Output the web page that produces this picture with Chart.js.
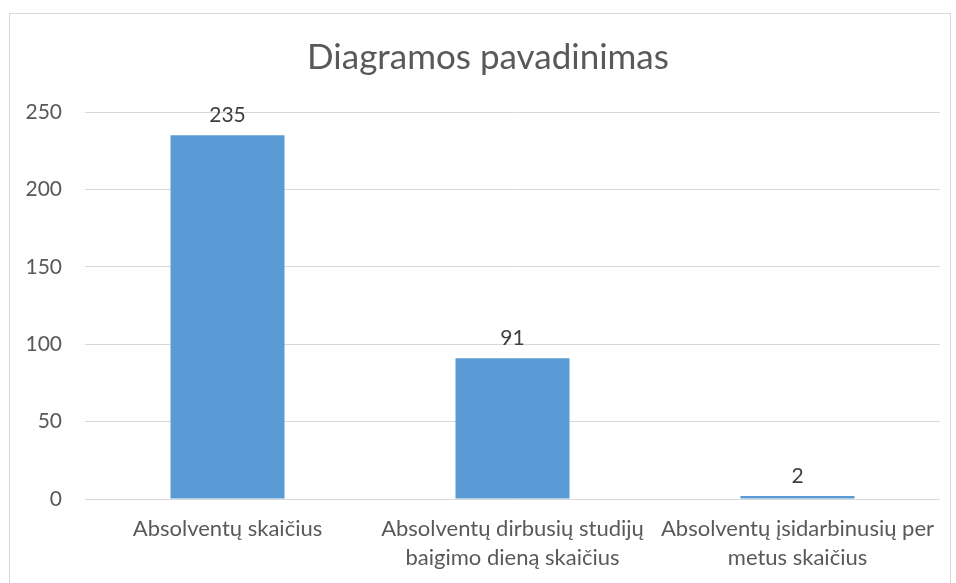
<!DOCTYPE html>
<html>
<head>
<meta charset="utf-8">
<script src="https://cdn.jsdelivr.net/npm/chart.js@4"></script>
<style>
  body { margin: 0; background: #fff; }
  #wrap { position: relative; width: 956px; height: 583px; overflow: hidden; }
  #frame { position: absolute; left: 9px; top: 13px; width: 942px; height: 600px; border: 1px solid #d9d9d9; box-sizing: border-box; }
  canvas { position: absolute; left: 0; top: 0; }
</style>
</head>
<body>
<div id="wrap">
  <div id="frame"></div>
  <canvas id="myChart" width="956" height="583"></canvas>
</div>
<script>
// Duomenys
const kategorijos = [
    ['Absolventų skaičius'],
    ['Absolventų dirbusių studijų', 'baigimo dieną skaičius'],
    ['Absolventų įsidarbinusių per', 'metus skaičius']
];
const reiksmes = [235, 91, 2];
const pavadinimas = 'Diagramos pavadinimas';
const yMax = 250;
const yZingsnis = 50;

const SRIFTAS = "Lato, 'Open Sans', sans-serif";

// Reikšmės virš stulpelių
const reiksmiuPlugin = {
    id: 'reiksmes',
    afterDatasetsDraw(chart) {
        const ctx = chart.ctx;
        const meta = chart.getDatasetMeta(0);
        ctx.save();
        ctx.fillStyle = '#404040';
        ctx.font = '21px ' + SRIFTAS;
        ctx.textAlign = 'center';
        ctx.textBaseline = 'alphabetic';
        meta.data.forEach((bar, i) => {
            ctx.fillText(String(reiksmes[i]), bar.x, bar.y - 13);
        });
        ctx.restore();
    }
};

// Pavadinimas
const pavadinimoPlugin = {
    id: 'pavadinimas',
    afterDraw(chart) {
        const ctx = chart.ctx;
        ctx.save();
        ctx.fillStyle = '#595959';
        ctx.font = '35px ' + SRIFTAS;
        ctx.textAlign = 'center';
        ctx.textBaseline = 'middle';
        ctx.fillText(pavadinimas, 488, 58);
        ctx.restore();
    }
};

const ctx = document.getElementById('myChart').getContext('2d');
new Chart(ctx, {
    type: 'bar',
    data: {
        labels: kategorijos,
        datasets: [{
            data: reiksmes,
            backgroundColor: '#5b9bd5',
            borderWidth: 0,
            categoryPercentage: 1.0,
            barPercentage: 0.4
        }]
    },
    options: {
        responsive: false,
        animation: false,
        layout: {
            padding: { top: 112, right: 16, bottom: 0, left: 0 }
        },
        plugins: {
            legend: { display: false },
            tooltip: { enabled: false },
            title: { display: false }
        },
        scales: {
            x: {
                grid: { display: false, drawTicks: false },
                border: { display: false },
                ticks: {
                    color: '#595959',
                    font: { family: SRIFTAS, size: 22, lineHeight: 1.32 },
                    padding: 15,
                    maxRotation: 0,
                    autoSkip: false
                },
                afterFit(scale) { scale.height = 84; }
            },
            y: {
                min: 0,
                max: yMax,
                ticks: {
                    stepSize: yZingsnis,
                    color: '#595959',
                    font: { family: SRIFTAS, size: 21 },
                    padding: 23
                },
                grid: { color: '#d9d9d9', lineWidth: 1, drawTicks: false },
                border: { display: false },
                afterFit(scale) { scale.width = 85; }
            }
        }
    },
    plugins: [reiksmiuPlugin, pavadinimoPlugin]
});
</script>
</body>
</html>
